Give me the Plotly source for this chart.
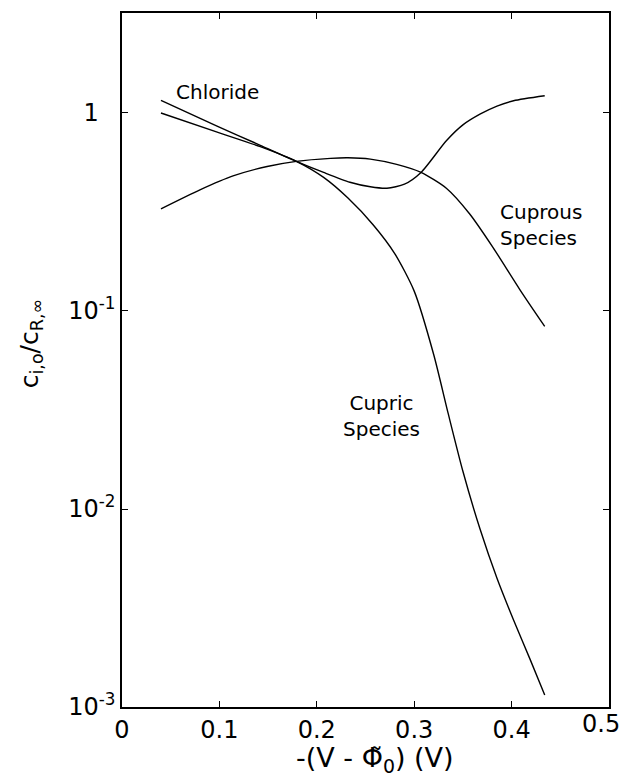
import plotly.graph_objects as go

# Chloride
chloride_x = [0.040, 0.097, 0.142, 0.179, 0.207, 0.234, 0.255, 0.272, 0.290, 0.307, 0.333, 0.350, 0.368, 0.385, 0.402, 0.434]
chloride_y = [1.158, 0.861, 0.687, 0.570, 0.501, 0.447, 0.424, 0.417, 0.437, 0.501, 0.724, 0.871, 0.989, 1.084, 1.153, 1.222]

# Cupric species
cupric_x = [0.040, 0.097, 0.142, 0.179, 0.207, 0.232, 0.258, 0.280, 0.300, 0.320, 0.335, 0.350, 0.3675, 0.385, 0.402, 0.419, 0.434]
cupric_y = [1.0, 0.803, 0.676, 0.570, 0.473, 0.372, 0.272, 0.195, 0.126, 0.0603, 0.0302, 0.0155, 0.00794, 0.00447, 0.00275, 0.00174, 0.00115]

# Cuprous species
cuprous_x = [0.040, 0.080, 0.114, 0.149, 0.179, 0.214, 0.232, 0.255, 0.282, 0.307, 0.333, 0.357, 0.381, 0.4086, 0.434]
cuprous_y = [0.328, 0.409, 0.481, 0.537, 0.570, 0.590, 0.594, 0.585, 0.550, 0.501, 0.417, 0.309, 0.209, 0.128, 0.0836]

x_ticks = [0, 0.1, 0.2, 0.3, 0.4, 0.5]
x_ticktext = ["0", "0.1", "0.2", "0.3", "0.4", "0.5"]
y_ticks = [0.001, 0.01, 0.1, 1]
y_ticktext = ["10<sup>-3</sup>", "10<sup>-2</sup>", "10<sup>-1</sup>", "1\u2002\u2009"]

FONT = "DejaVu Sans"
TICK_SIZE = 24
line = dict(color="black", width=1.4, shape="spline", smoothing=0.7)

fig = go.Figure()
for name, xs, ys in [("Chloride", chloride_x, chloride_y),
                     ("Cupric Species", cupric_x, cupric_y),
                     ("Cuprous Species", cuprous_x, cuprous_y)]:
    fig.add_trace(go.Scatter(x=xs, y=ys, mode="lines", name=name, line=line,
                             showlegend=False))

lab = dict(family=FONT, size=20, color="black")
fig.add_annotation(x=0.0534, y=0.104, xref="x", yref="y", text="Chloride",
                   showarrow=False, xanchor="left", yanchor="middle", font=lab)
fig.add_annotation(x=0.386, y=-0.567, xref="x", yref="y", text="Cuprous<br>Species",
                   showarrow=False, xanchor="left", yanchor="middle", align="left", font=lab)
fig.add_annotation(x=0.266, y=-1.531, xref="x", yref="y", text="Cupric<br>Species",
                   showarrow=False, xanchor="center", yanchor="middle", align="center", font=lab)

# last x tick label placed so it stays inside the page
fig.add_annotation(x=(622 - 122) / 487, y=(707 - 724) / 694, xref="paper", yref="paper",
                   text=x_ticktext[-1], showarrow=False, xanchor="right", yanchor="middle",
                   font=dict(family=FONT, size=TICK_SIZE, color="black"))

# axis titles
fig.add_annotation(x=0.52, y=(707 - 759) / 694, xref="paper", yref="paper",
                   text="-(V - Φ̃<sub>0</sub>) (V)", showarrow=False,
                   xanchor="center", yanchor="middle",
                   font=dict(family=FONT, size=27, color="black"))
fig.add_annotation(x=-0.187, y=0.524, xref="paper", yref="paper",
                   text="c<sub>i,o</sub>/c<sub>R,∞</sub>", showarrow=False, textangle=-90,
                   xanchor="center", yanchor="middle",
                   font=dict(family=FONT, size=25, color="black"))

fig.update_layout(
    width=624, height=780,
    margin=dict(l=122, r=15, t=13, b=73),
    plot_bgcolor="white", paper_bgcolor="white",
    font=dict(family=FONT, color="black"),
)
fig.update_xaxes(
    range=[0, 0.5], tickvals=x_ticks, ticktext=x_ticktext[:-1] + [""],
    ticks="inside", ticklen=6, tickwidth=1.2, tickcolor="black",
    showline=True, linecolor="black", linewidth=1.5, mirror="ticks",
    showgrid=False, zeroline=False, automargin=False,
    tickfont=dict(family=FONT, size=TICK_SIZE),
)
fig.update_yaxes(
    type="log", range=[-3, 0.505], tickvals=y_ticks, ticktext=y_ticktext,
    ticks="inside", ticklen=6, tickwidth=1.2, tickcolor="black",
    showline=True, linecolor="black", linewidth=1.5, mirror="ticks",
    showgrid=False, zeroline=False, automargin=False,
    tickfont=dict(family=FONT, size=TICK_SIZE),
)

fig.write_html(
    "out.html",
    config={"displayModeBar": False},
    post_script="document.body.style.margin='0';document.body.style.overflow='hidden';",
)
